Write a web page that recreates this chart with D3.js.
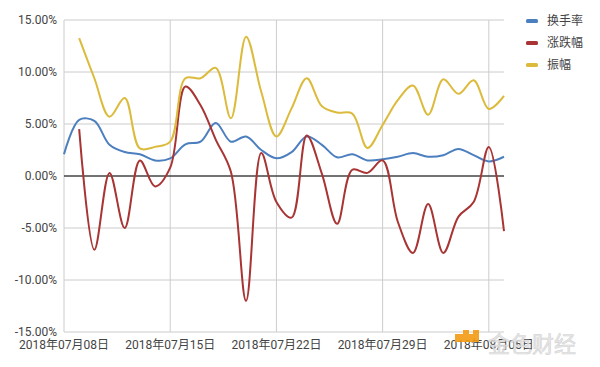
<!DOCTYPE html>
<html lang="zh">
<head>
<meta charset="UTF-8">
<title>换手率 / 涨跌幅 / 振幅</title>
<style>
  body { margin: 0; background: #fff; }
  svg text { font-family: Roboto, "Noto Sans CJK SC", sans-serif; }
</style>
</head>
<body>
<svg id="chart" width="600" height="367"></svg>
<script src="https://cdn.jsdelivr.net/npm/d3@7"></script>
<script>
// dates 2018-07-08 .. 2018-08-06
var dates = d3.range(30).map(function (i) { return new Date(2018, 6, 8 + i); });
var tickDates = [new Date(2018, 6, 8), new Date(2018, 6, 15), new Date(2018, 6, 22), new Date(2018, 6, 29), new Date(2018, 7, 5)];
var yTicks = [15, 10, 5, 0, -5, -10, -15];

var seriesNames = ["换手率", "涨跌幅", "振幅"];
var seriesColors = ["#4c7fbf", "#a83434", "#dcbb3c"];

// percent values, one per day (null = no data)
var turnover = [2.1, 5.4, 5.3, 3.0, 2.3, 2.1, 1.5, 1.7, 3.05, 3.3, 5.1, 3.3, 3.8, 2.5, 1.7, 2.3, 3.8, 3.0, 1.8, 2.1, 1.5, 1.6, 1.85, 2.2, 1.85, 2.0, 2.6, 2.0, 1.4, 1.85];
var change = [null, 4.5, -7.1, 0.3, -5.0, 1.5, -1.0, 0.8, 8.6, 6.8, 3.5, 0.4, -12.0, 2.2, -2.5, -4.0, 3.9, 0.2, -4.6, 0.6, 0.3, 1.5, -4.4, -7.4, -2.7, -7.4, -3.9, -2.5, 2.8, -5.3];
var amplitude = [null, 13.25, 9.4, 5.7, 7.5, 2.65, 2.8, 3.3, 9.4, 9.4, 10.4, 5.55, 13.4, 8.1, 3.8, 6.5, 9.4, 6.7, 6.1, 6.0, 2.7, 4.9, 7.3, 8.7, 5.9, 9.3, 7.9, 9.2, 6.45, 7.7];

var seriesData = [turnover, change, amplitude];

var svg = d3.select("#chart");
var plotLeft = 64, plotRight = 504, plotTop = 20, plotBottom = 332;

var x = d3.scaleTime()
    .domain([dates[0], dates[dates.length - 1]])
    .range([plotLeft, plotRight]);
var y = d3.scaleLinear()
    .domain([-15, 15])
    .range([plotBottom, plotTop]);

// horizontal gridlines
svg.append("g")
    .selectAll("line")
    .data(yTicks)
    .enter()
    .append("line")
    .attr("x1", plotLeft)
    .attr("x2", plotRight)
    .attr("y1", function (d) { return y(d); })
    .attr("y2", function (d) { return y(d); })
    .attr("stroke", "#cccccc")
    .attr("stroke-width", 1);

// vertical gridlines
svg.append("g")
    .selectAll("line")
    .data(tickDates)
    .enter()
    .append("line")
    .attr("x1", function (d) { return x(d); })
    .attr("x2", function (d) { return x(d); })
    .attr("y1", plotTop)
    .attr("y2", plotBottom)
    .attr("stroke", "#cccccc")
    .attr("stroke-width", 1);

// y labels
svg.append("g")
    .selectAll("text")
    .data(yTicks)
    .enter()
    .append("text")
    .attr("x", plotLeft - 7)
    .attr("y", function (d) { return y(d); })
    .attr("dy", "0.35em")
    .attr("text-anchor", "end")
    .attr("font-size", 12)
    .attr("fill", "#444")
    .text(function (d) { return d.toFixed(2) + "%"; });

// x labels
var fmt = d3.timeFormat("%Y年%m月%d日");
svg.append("g")
    .selectAll("text")
    .data(tickDates)
    .enter()
    .append("text")
    .attr("x", function (d) { return x(d); })
    .attr("y", plotBottom + 17)
    .attr("text-anchor", "middle")
    .attr("font-size", 12)
    .attr("fill", "#444")
    .text(function (d) { return fmt(d); });

// zero line
svg.append("line")
    .attr("x1", plotLeft).attr("x2", plotRight)
    .attr("y1", y(0)).attr("y2", y(0))
    .attr("stroke", "#000").attr("stroke-width", 1.2);

// series lines
var line = d3.line()
    .defined(function (d) { return d != null; })
    .x(function (d, i) { return x(dates[i]); })
    .y(function (d) { return y(d); })
    .curve(d3.curveCatmullRom.alpha(0.5));

svg.append("g")
    .selectAll("path")
    .data(seriesData)
    .enter()
    .append("path")
    .attr("d", function (d) { return line(d); })
    .attr("fill", "none")
    .attr("stroke", function (d, i) { return seriesColors[i]; })
    .attr("stroke-width", 2);

// legend
var legend = svg.append("g")
    .selectAll("g")
    .data(seriesNames)
    .enter()
    .append("g")
    .attr("transform", function (d, i) { return "translate(526," + (21 + i * 22) + ")"; });
legend.append("rect")
    .attr("x", 0).attr("y", -2)
    .attr("width", 12).attr("height", 4)
    .attr("rx", 1.5)
    .attr("fill", function (d, i) { return seriesColors[i]; });
legend.append("text")
    .attr("x", 21)
    .attr("dy", "0.35em")
    .attr("font-size", 12)
    .attr("fill", "#444")
    .text(function (d) { return d; });

// watermark
var wm = svg.append("g").attr("opacity", 0.9);
wm.append("rect").attr("x", 455).attr("y", 334).attr("width", 24).attr("height", 8).attr("fill", "#f39c12");
wm.append("rect").attr("x", 473).attr("y", 330).attr("width", 6).attr("height", 12).attr("fill", "#f39c12");
wm.append("rect").attr("x", 463).attr("y", 330).attr("width", 6).attr("height", 4).attr("fill", "#f39c12");
wm.append("text")
    .attr("x", 488).attr("y", 352)
    .attr("font-size", 22)
    .attr("fill", "#e6e6e6")
    .attr("stroke", "#cfcfcf")
    .attr("stroke-width", 0.6)
    .text("金色财经");
</script>
</body>
</html>
